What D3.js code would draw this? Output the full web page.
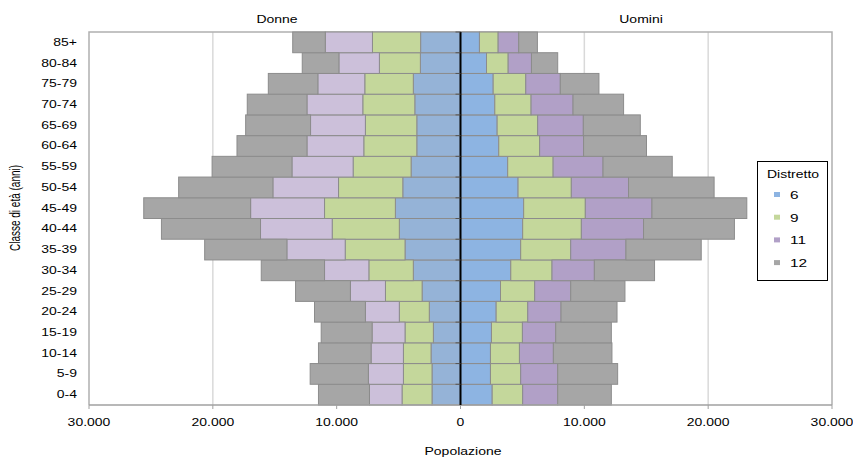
<!DOCTYPE html>
<html>
<head>
<meta charset="utf-8">
<script src="https://cdn.jsdelivr.net/npm/d3@7"></script>
<style>
  body { margin: 0; background: #fff; }
  text { font-family: "Liberation Sans", Arial, sans-serif; fill: #000; }
</style>
</head>
<body>
<script>
//data - age classes bottom to top
var ages = ["0-4","5-9","10-14","15-19","20-24","25-29","30-34","35-39","40-44",
            "45-49","50-54","55-59","60-64","65-69","70-74","75-79","80-84","85+"];
var districts = ["6","9","11","12"];

// Donne (women) by district
var donne6  = [2300,2300,2380,2190,2520,3100,3810,4480,4940,5260,4660,3990,3530,3530,3690,3810,3240,3220];
var donne9  = [2420,2310,2230,2290,2420,2960,3590,4830,5420,5720,5190,4680,4280,4150,4200,3920,3310,3890];
var donne11 = [2630,2830,2610,2660,2740,2830,3580,4710,5790,5970,5300,4940,4590,4430,4510,3790,3270,3810];
var donne12 = [4120,4700,4250,4110,4110,4430,5110,6640,8000,8630,7610,6450,5650,5240,4820,4000,2960,2630];

// Uomini (men) by district
var uomini6  = [2560,2420,2420,2500,2880,3230,4060,4860,5020,5100,4650,3810,3090,2960,2770,2640,2100,1530];
var uomini9  = [2460,2440,2340,2500,2550,2760,3330,4040,4740,4980,4300,3670,3300,3270,2930,2630,1750,1510];
var uomini11 = [2830,2990,2740,2690,2690,2910,3420,4460,5020,5380,4620,4030,3550,3690,3390,2790,1880,1660];
var uomini12 = [4330,4840,4730,4490,4520,4380,4860,6080,7340,7660,6910,5590,5080,4600,4080,3120,2120,1510];

var xTicks = [-30000,-20000,-10000,0,10000,20000,30000];

var colDonne  = {"6":"#95b3d7","9":"#c4d79b","11":"#ccc0da","12":"#a6a6a6"};
var colUomini = {"6":"#8db4e2","9":"#c4d79b","11":"#b1a0c7","12":"#a6a6a6"};

var width = 853, height = 457;
var pLeft = 89, pRight = 832, pTop = 32, pBottom = 405;
var sx = 1.4; // text in the original is stretched horizontally

var it = d3.formatLocale({decimal: ",", thousands: ".", grouping: [3], currency: ["", "€"]});
var fmt = it.format(",");

var svg = d3.select("body").append("svg")
    .attr("width", width)
    .attr("height", height);

var x = d3.scaleLinear().domain([-30000, 30000]).range([pLeft, pRight]);
var y = d3.scaleBand().domain(ages.slice().reverse()).range([pTop, pBottom]).padding(0);

// helper for stretched text
function label(g, str, tx, ty, anchor, size) {
    return g.append("text")
        .attr("transform", "translate(" + tx + "," + ty + ") scale(" + sx + ",1)")
        .attr("text-anchor", anchor || "middle")
        .style("font-size", (size || 10) + "px")
        .text(str);
}

// gridlines
svg.append("g").selectAll("line")
    .data(xTicks.filter(function(d){ return d != 0 && Math.abs(d) != 30000; }))
    .enter().append("line")
    .attr("x1", function(d){ return x(d); })
    .attr("x2", function(d){ return x(d); })
    .attr("y1", pTop).attr("y2", pBottom)
    .attr("stroke", "#d9d9d9").attr("stroke-width", 1.5);

// plot frame
svg.append("path")
    .attr("d", "M" + pLeft + "," + pBottom + "V" + pTop + "H" + pRight + "V" + pBottom)
    .attr("fill", "none").attr("stroke", "#b0b0b0").attr("stroke-width", 1.5);

function makeRows(a6, a9, a11, a12) {
    return ages.map(function(age, i){
        return {age: age, "6": a6[i], "9": a9[i], "11": a11[i], "12": a12[i]};
    });
}

var stack = d3.stack().keys(districts);
var stDonne = stack(makeRows(donne6, donne9, donne11, donne12));
var stUomini = stack(makeRows(uomini6, uomini9, uomini11, uomini12));

function drawSide(series, sign, cols) {
    var g = svg.append("g");
    series.forEach(function(s){
        g.append("g").selectAll("rect")
            .data(s)
            .enter().append("rect")
            .attr("x", function(d){ return Math.min(x(sign*d[0]), x(sign*d[1])); })
            .attr("width", function(d){ return Math.abs(x(sign*d[1]) - x(sign*d[0])); })
            .attr("y", function(d){ return y(d.data.age); })
            .attr("height", y.bandwidth())
            .attr("fill", cols[s.key])
            .attr("stroke", "#8c8c8c")
            .attr("stroke-width", 1);
    });
}
drawSide(stDonne, -1, colDonne);
drawSide(stUomini, 1, colUomini);

// bottom axis
svg.append("line")
    .attr("x1", pLeft).attr("x2", pRight).attr("y1", pBottom).attr("y2", pBottom)
    .attr("stroke", "#a0a0a0").attr("stroke-width", 1.5);
var xt = svg.append("g");
xTicks.forEach(function(t){
    xt.append("line")
        .attr("x1", x(t)).attr("x2", x(t)).attr("y1", pBottom).attr("y2", pBottom + 4)
        .attr("stroke", "#a0a0a0");
    label(xt, fmt(Math.abs(t)), x(t), 426);
});

// central category axis
var ya = svg.append("g");
ya.append("line")
    .attr("x1", x(0)).attr("x2", x(0)).attr("y1", pTop).attr("y2", pBottom)
    .attr("stroke", "#000").attr("stroke-width", 2);
ages.forEach(function(a){
    ya.append("line")
        .attr("x1", x(0) - 5).attr("x2", x(0))
        .attr("y1", y(a)).attr("y2", y(a))
        .attr("stroke", "#555");
    label(ya, a, 77, y(a) + y.bandwidth()/2 + 3.5, "end");
});

// titles
label(svg, "Donne", 277, 23);
label(svg, "Uomini", 641, 23);
label(svg, "Popolazione", 463, 455);
svg.append("text")
    .attr("transform", "translate(20,208) scale(" + sx + ",1) rotate(-90)")
    .attr("text-anchor", "middle")
    .style("font-size", "10px")
    .text("Classe di età (anni)");

// legend
var lg = svg.append("g");
lg.append("rect")
    .attr("x", 757.5).attr("y", 161.5).attr("width", 70).attr("height", 119)
    .attr("fill", "#fff").attr("stroke", "#000");
label(lg, "Distretto", 767, 178, "start");
districts.forEach(function(k, i){
    var ly = 195 + i * 22.7;
    lg.append("rect")
        .attr("x", 774).attr("y", ly - 3)
        .attr("width", 6).attr("height", 5)
        .attr("fill", colUomini[k]);
    label(lg, k, 790, ly + 4, "start", 11);
});
</script>
</body>
</html>
